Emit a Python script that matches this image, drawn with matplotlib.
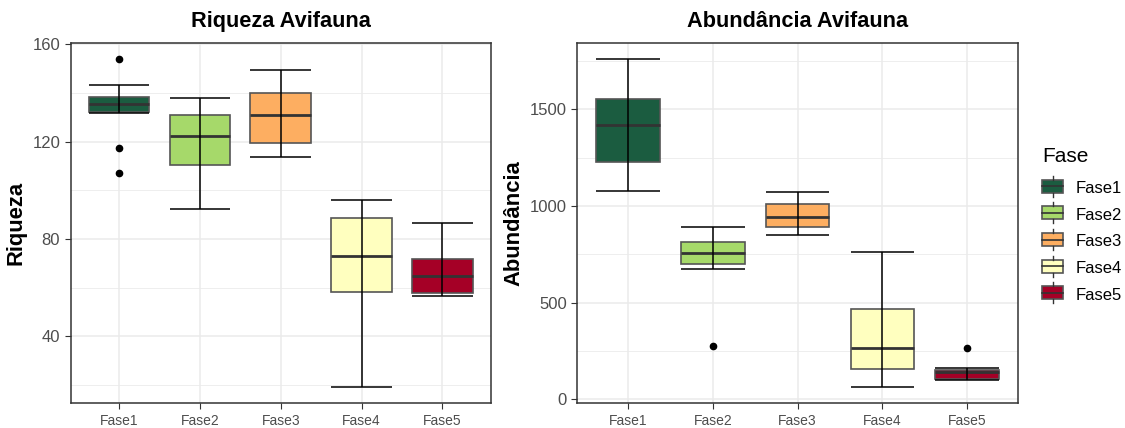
import numpy as np
import matplotlib
matplotlib.use("Agg")
import matplotlib.pyplot as plt
from matplotlib.ticker import MultipleLocator
from matplotlib.patches import Rectangle, Patch
from matplotlib.lines import Line2D
from matplotlib.legend_handler import HandlerBase

plt.rcParams['font.family'] = ['Liberation Sans', 'DejaVu Sans']

# data
fases = ['Fase1', 'Fase2', 'Fase3', 'Fase4', 'Fase5']
cores = ['#1B5C40', '#A6D96A', '#FDAE61', '#FFFFBF', '#A50026']

riq_min = [131.8, 92.4, 113.5, 19.2, 56.4]
riq_q1 = [132.2, 110.2, 119.4, 58.2, 57.8]
riq_med = [135.6, 122.4, 130.9, 72.8, 64.6]
riq_q3 = [138.5, 131.0, 140.0, 88.8, 71.8]
riq_max = [143.3, 138.1, 149.3, 96.1, 86.4]
riq_out = [[154.0, 117.2, 107.3], [], [], [], []]

abu_min = [1078, 674, 850, 64, 102]
abu_q1 = [1225, 702, 889, 158, 105]
abu_med = [1416, 755, 941, 267, 140]
abu_q3 = [1553, 815, 1008, 468, 153]
abu_max = [1760, 891, 1073, 764, 160]
abu_out = [[], [275], [], [], [263]]


def boxes(ax, lo, q1, med, q3, hi, out, major):
    stats = []
    for i in range(len(fases)):
        stats.append(dict(label=fases[i], whislo=lo[i], q1=q1[i], med=med[i],
                          q3=q3[i], whishi=hi[i], fliers=out[i]))
    pos = np.arange(1, len(fases) + 1)
    bp = ax.bxp(stats, positions=pos, widths=0.75, patch_artist=True,
                showcaps=False, showfliers=True,
                boxprops=dict(edgecolor='#555555', linewidth=1.2),
                medianprops=dict(color='#333333', linewidth=2),
                whiskerprops=dict(linewidth=0),
                flierprops=dict(marker='o', markerfacecolor='black',
                                markeredgecolor='black', markersize=4.5))
    for b, c in zip(bp['boxes'], cores):
        b.set_facecolor(c)
    # errorbar whiskers drawn over the boxes
    ax.vlines(pos, lo, hi, color='black', linewidth=1.1, zorder=5)
    ax.hlines(lo, pos - 0.375, pos + 0.375, color='black', linewidth=1.1, zorder=5)
    ax.hlines(hi, pos - 0.375, pos + 0.375, color='black', linewidth=1.1, zorder=5)

    allv = list(lo) + list(hi) + [v for o in out for v in o]
    r = max(allv) - min(allv)
    ax.set_ylim(min(allv) - 0.05 * r, max(allv) + 0.05 * r)
    ax.set_xlim(0.4, len(fases) + 0.6)
    ax.set_xticks(pos)
    ax.set_xticklabels(fases)
    ax.yaxis.set_major_locator(MultipleLocator(major))
    ax.yaxis.set_minor_locator(MultipleLocator(major / 2))
    ax.grid(which='major', color='#EBEBEB', linewidth=1.1, zorder=0)
    ax.grid(which='minor', axis='y', color='#EBEBEB', linewidth=0.6, zorder=0)
    ax.set_axisbelow(True)
    ax.tick_params(axis='y', which='minor', length=0)
    ax.tick_params(axis='x', labelsize=10, colors='#333333', labelcolor='#4D4D4D', length=4)
    ax.tick_params(axis='y', which='major', labelsize=12, colors='#333333', labelcolor='#4D4D4D', length=4)
    for s in ax.spines.values():
        s.set_color('#333333')
        s.set_linewidth(1.1)


class BoxKey(HandlerBase):
    def create_artists(self, legend, orig, xd, yd, w, h, fs, trans):
        c = orig.get_facecolor()
        rect = Rectangle((xd, yd), w, h, facecolor=c, edgecolor='#555555',
                         linewidth=1.2, transform=trans)
        mid = Line2D([xd, xd + w], [yd + h / 2, yd + h / 2], color='#333333',
                     linewidth=1.2, transform=trans)
        top = Line2D([xd + w / 2, xd + w / 2], [yd + h, yd + h + 3], color='#333333',
                     linewidth=1, transform=trans)
        bot = Line2D([xd + w / 2, xd + w / 2], [yd - 3, yd], color='#333333',
                     linewidth=1, transform=trans)
        return [rect, mid, top, bot]


fig = plt.figure(figsize=(11.25, 4.28), dpi=100)
ax1 = fig.add_axes([0.0628, 0.0577, 0.3736, 0.843])
ax2 = fig.add_axes([0.5131, 0.0577, 0.3918, 0.843])

boxes(ax1, riq_min, riq_q1, riq_med, riq_q3, riq_max, riq_out, 40)
boxes(ax2, abu_min, abu_q1, abu_med, abu_q3, abu_max, abu_out, 500)

ax1.set_title('Riqueza Avifauna', fontsize=15.7, fontweight='bold', pad=11)
ax2.set_title('Abundância Avifauna', fontsize=15.7, fontweight='bold', pad=11)
ax1.set_ylabel('Riqueza', fontsize=15.8, fontweight='bold', labelpad=4)
ax2.set_ylabel('Abundância', fontsize=15.8, fontweight='bold', labelpad=4)

handles = [Patch(facecolor=c, label=f) for c, f in zip(cores, fases)]
leg = fig.legend(handles=handles, title='Fase', loc='upper left',
                 bbox_to_anchor=(0.926, 0.6556), frameon=False, fontsize=12,
                 title_fontsize=15, handler_map={Patch: BoxKey()},
                 handlelength=1.3, handleheight=0.8, handletextpad=0.75,
                 labelspacing=0.69, borderaxespad=0, borderpad=0)
leg._legend_box.align = 'left'
leg._legend_box.sep = 10.5

fig.savefig('out.png', dpi=100)
